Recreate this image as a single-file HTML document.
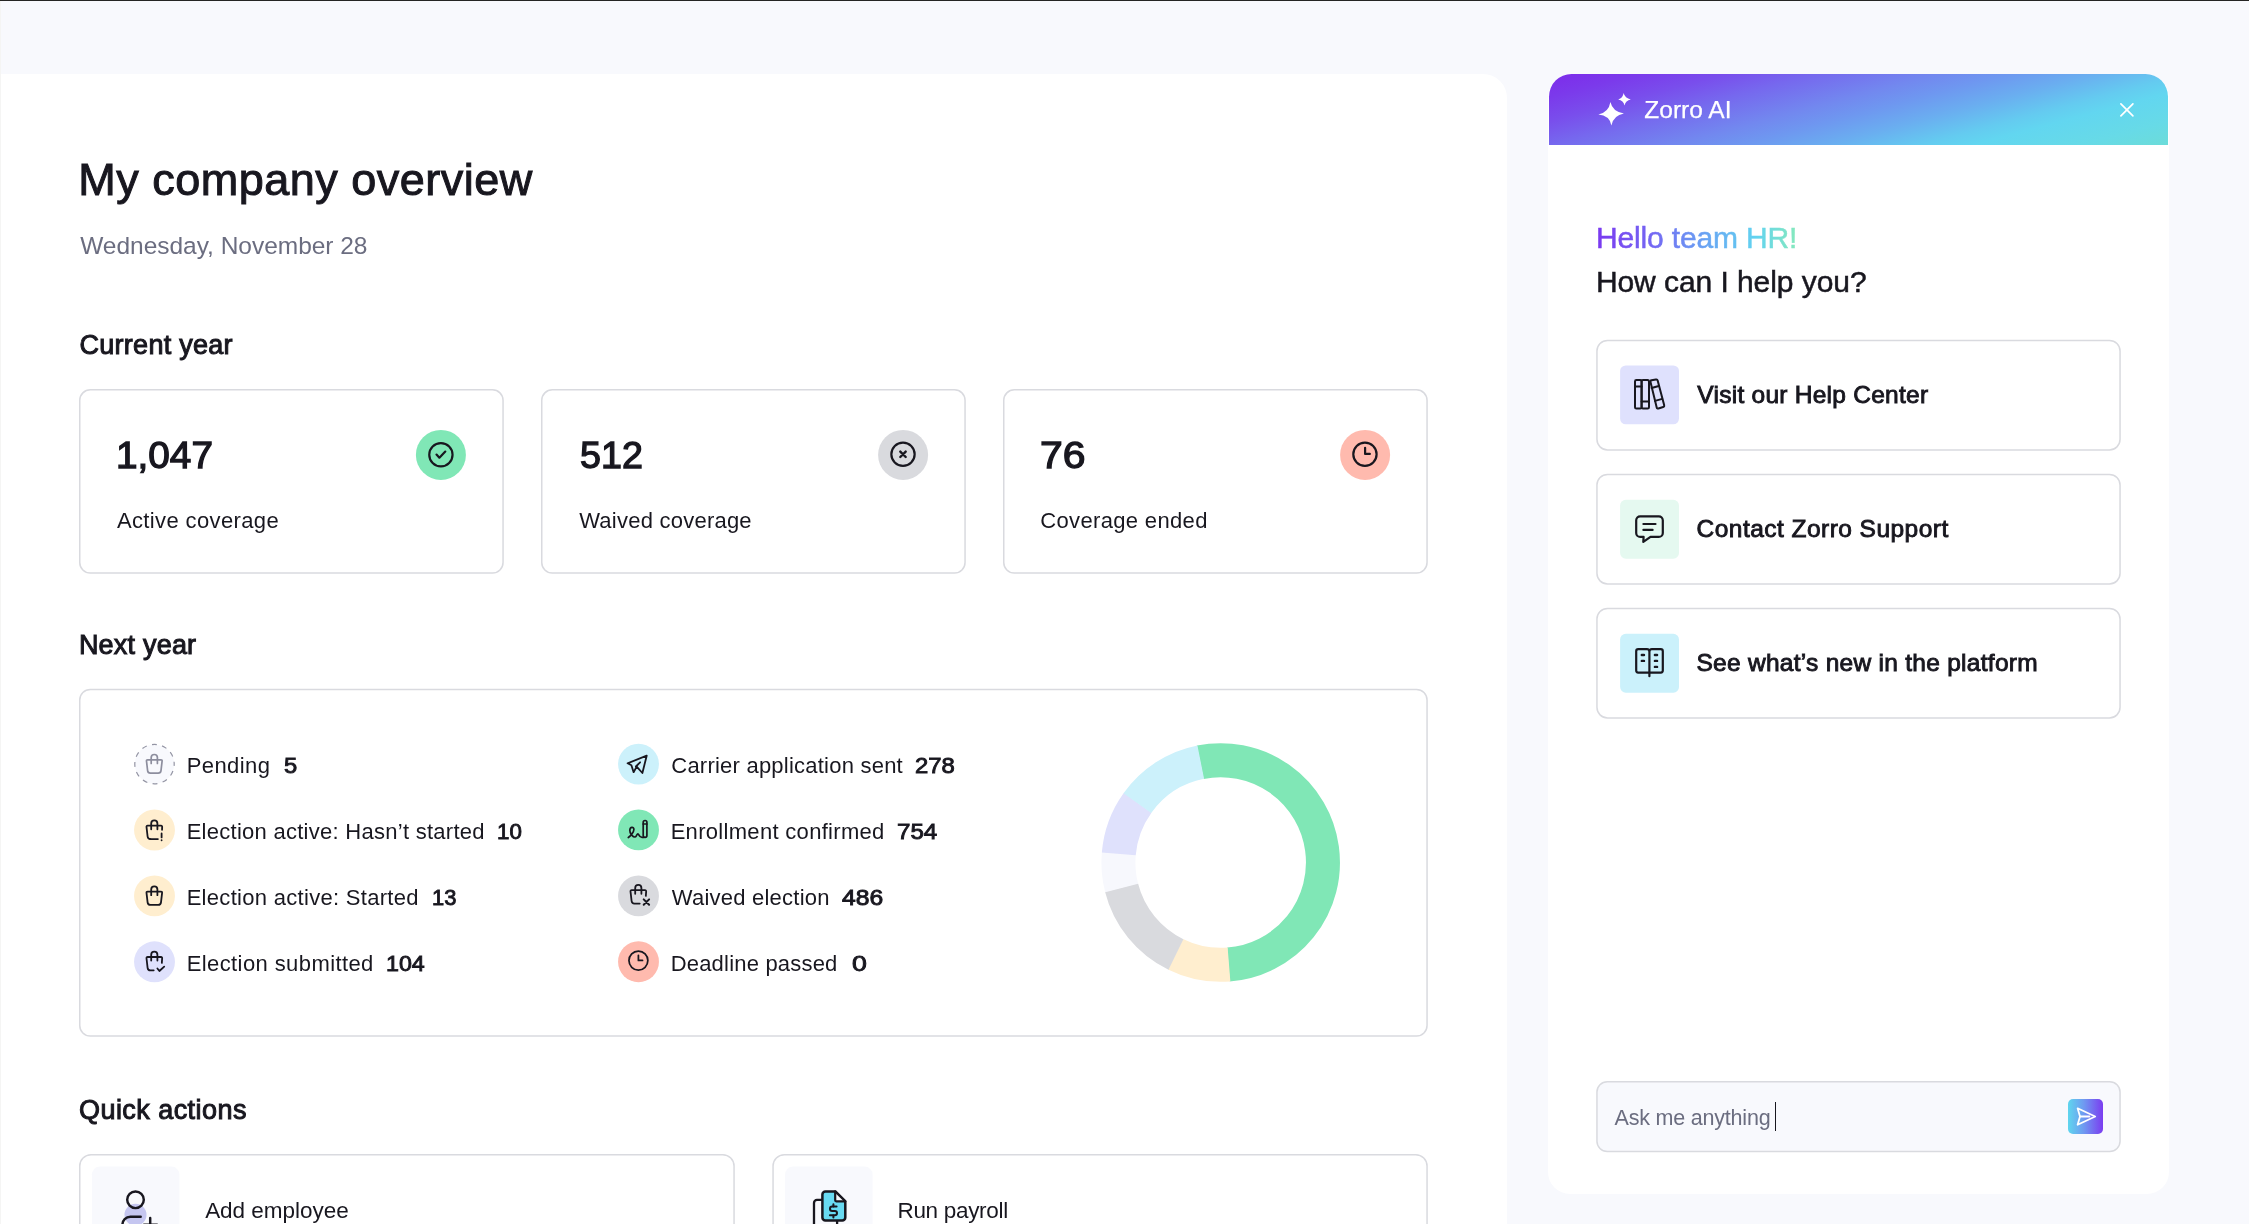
<!DOCTYPE html>
<html lang="en">
<head>
<meta charset="utf-8">
<title>My company overview</title>
<style>
*{box-sizing:border-box;margin:0;padding:0}
html,body{width:2249px;height:1224px;overflow:hidden;background:#f8f9fd}
body{font-family:"Liberation Sans",sans-serif;color:#18171f;position:relative}
.abs{position:absolute}
.t{position:absolute;white-space:nowrap;line-height:1;color:#18171f}
#tx{position:absolute;left:0;top:0;width:2249px;height:1224px;will-change:transform}
#topline{left:0;top:0;width:2249px;height:1px;background:#252524}
#leftcol{left:0;top:1px;width:1px;height:1223px;background:#f5f5f4}
#main{left:1px;top:74px;width:1506px;height:1160px;background:#fff;border-top-right-radius:24px}
#ai{left:1548px;top:73.5px;width:620.8px;height:1120.5px;background:#fff;border-radius:24px 24px 22px 22px}
#aihead{left:1549.4px;top:74.4px;width:618.6px;height:70.3px;border-radius:22.5px 22.5px 0 0;background:linear-gradient(165deg,#7d2bea 0%,#7b3aeb 10%,#794eec 20%,#7668ee 30%,#7288ef 44%,#6e98f0 52%,#6aaef0 61.5%,#64cbf0 72%,#62d6f0 78%,#67dae7 90%,#6cdcd9 100%)}
#send{left:2068px;top:1098.9px;width:35.3px;height:35.2px;border-radius:5px;background:linear-gradient(90deg,#5fd6ee 0%,#6f9af1 45%,#7b3cf0 100%)}
#caret{left:1774.6px;top:1102px;width:1.5px;height:29.2px;background:#18171f}
svg{position:absolute;left:0;top:0;overflow:visible}
.ic{fill:none;stroke:#18171f;stroke-linecap:round;stroke-linejoin:round}
.cd{fill:#fff;stroke:#d9dadf;stroke-width:1.5}
</style>
</head>
<body>
<div id="topline" class="abs"></div>
<div id="leftcol" class="abs"></div>
<div id="main" class="abs"></div>
<div id="ai" class="abs"></div>
<div id="aihead" class="abs"></div>
<svg width="2249" height="1224" viewBox="0 0 2249 1224">
<rect class="cd" x="79.75" y="389.75" width="423.3" height="183.3" rx="10.6"/>
<rect class="cd" x="541.75" y="389.75" width="423.3" height="183.3" rx="10.6"/>
<rect class="cd" x="1003.75" y="389.75" width="423.3" height="183.3" rx="10.6"/>
<rect class="cd" x="79.75" y="689.45" width="1347.3" height="346.6" rx="10.6"/>
<rect class="cd" x="79.75" y="1154.65" width="654.3" height="120" rx="11.3"/>
<rect class="cd" x="773.05" y="1154.65" width="654" height="120" rx="11.3"/>
<rect x="92" y="1166.6" width="87.4" height="80" rx="8" fill="#f8f9fd"/>
<rect x="785.1" y="1166.6" width="87.5" height="80" rx="8" fill="#f8f9fd"/>
<rect class="cd" x="1596.95" y="340.45" width="523.1" height="109.5" rx="10.6"/>
<rect class="cd" x="1596.95" y="474.45" width="523.1" height="109.5" rx="10.6"/>
<rect class="cd" x="1596.95" y="608.45" width="523.1" height="109.5" rx="10.6"/>
<rect class="cd" x="1596.95" y="1081.65" width="523.1" height="69.9" rx="10.3" style="fill:#f8f9fd"/>
</svg>
<div id="send" class="abs"></div>
<div id="caret" class="abs"></div>
<div id="tx">
<div class="t" id="title" style="left:78.29px;top:157px;font-size:45px;letter-spacing:0.493px;-webkit-text-stroke:1.0px #18171f">My company overview</div>
<div class="t" id="date" style="left:80.23px;top:234px;font-size:24.5px;letter-spacing:-0.026px;color:#6b6d80">Wednesday, November 28</div>
<div class="t" id="cy" style="left:79.50px;top:332px;font-size:27px;letter-spacing:0.278px;-webkit-text-stroke:1.0px #18171f">Current year</div>
<div class="t" id="ny" style="left:78.92px;top:632px;font-size:27px;letter-spacing:0.208px;-webkit-text-stroke:1.0px #18171f">Next year</div>
<div class="t" id="qa" style="left:79.04px;top:1097px;font-size:27px;letter-spacing:0.442px;-webkit-text-stroke:1.0px #18171f">Quick actions</div>
<div class="t" id="n1" style="left:115.83px;top:437px;font-size:37.5px;letter-spacing:0.000px;-webkit-text-stroke:1.3px #18171f;transform:scaleX(1.0333);transform-origin:0 0">1,047</div>
<div class="t" id="n2" style="left:579.73px;top:437px;font-size:37.5px;letter-spacing:0.000px;-webkit-text-stroke:1.3px #18171f;transform:scaleX(1.0046);transform-origin:0 0">512</div>
<div class="t" id="n3" style="left:1040.11px;top:437px;font-size:37.5px;letter-spacing:0.000px;-webkit-text-stroke:1.3px #18171f;transform:scaleX(1.0913);transform-origin:0 0">76</div>
<div class="t" id="l1" style="left:116.94px;top:510px;font-size:22px;letter-spacing:0.371px">Active coverage</div>
<div class="t" id="l2" style="left:579.19px;top:510px;font-size:22px;letter-spacing:0.233px">Waived coverage</div>
<div class="t" id="l3" style="left:1040.27px;top:510px;font-size:22px;letter-spacing:0.340px">Coverage ended</div>
<div class="t" id="r1" style="left:186.65px;top:755px;font-size:22px;letter-spacing:0.427px">Pending</div>
<div class="t" id="r2" style="left:186.65px;top:821px;font-size:22px;letter-spacing:0.270px">Election active: Hasn’t started</div>
<div class="t" id="r3" style="left:186.65px;top:887px;font-size:22px;letter-spacing:0.299px">Election active: Started</div>
<div class="t" id="r4" style="left:186.65px;top:953px;font-size:22px;letter-spacing:0.409px">Election submitted</div>
<div class="t" id="r5" style="left:671.27px;top:755px;font-size:22px;letter-spacing:0.227px">Carrier application sent</div>
<div class="t" id="r6" style="left:670.65px;top:821px;font-size:22px;letter-spacing:0.308px">Enrollment confirmed</div>
<div class="t" id="r7" style="left:671.77px;top:887px;font-size:22px;letter-spacing:0.229px">Waived election</div>
<div class="t" id="r8" style="left:670.65px;top:953px;font-size:22px;letter-spacing:0.201px">Deadline passed</div>
<div class="t" id="b1" style="left:284.26px;top:755px;font-size:22.5px;letter-spacing:0.000px;-webkit-text-stroke:0.9px #18171f;transform:scaleX(1.0564);transform-origin:0 0">5</div>
<div class="t" id="b2" style="left:497.10px;top:821px;font-size:22.5px;letter-spacing:0.000px;-webkit-text-stroke:0.9px #18171f;transform:scaleX(0.9923);transform-origin:0 0">10</div>
<div class="t" id="b3" style="left:431.71px;top:887px;font-size:22.5px;letter-spacing:0.000px;-webkit-text-stroke:0.9px #18171f;transform:scaleX(0.9724);transform-origin:0 0">13</div>
<div class="t" id="b4" style="left:385.50px;top:953px;font-size:22.5px;letter-spacing:0.000px;-webkit-text-stroke:0.9px #18171f;transform:scaleX(1.0326);transform-origin:0 0">104</div>
<div class="t" id="b5" style="left:915.26px;top:755px;font-size:22.5px;letter-spacing:0.000px;-webkit-text-stroke:0.9px #18171f;transform:scaleX(1.0607);transform-origin:0 0">278</div>
<div class="t" id="b6" style="left:896.60px;top:821px;font-size:22.5px;letter-spacing:0.000px;-webkit-text-stroke:0.9px #18171f;transform:scaleX(1.0737);transform-origin:0 0">754</div>
<div class="t" id="b7" style="left:842.39px;top:887px;font-size:22.5px;letter-spacing:0.000px;-webkit-text-stroke:0.9px #18171f;transform:scaleX(1.0965);transform-origin:0 0">486</div>
<div class="t" id="b8" style="left:851.85px;top:953px;font-size:22.5px;letter-spacing:0.000px;-webkit-text-stroke:0.9px #18171f;transform:scaleX(1.1868);transform-origin:0 0">0</div>
<div class="t" id="ae" style="left:205.13px;top:1200px;font-size:22.5px;letter-spacing:-0.021px">Add employee</div>
<div class="t" id="rp" style="left:897.49px;top:1200px;font-size:22.5px;letter-spacing:-0.314px">Run payroll</div>
<div class="t" id="zai" style="left:1644.35px;top:98px;font-size:24.5px;letter-spacing:0.000px;color:#fff;-webkit-text-stroke:0.25px #fff">Zorro AI</div>
<svg width="2249" height="1224" viewBox="0 0 2249 1224"><defs><linearGradient id="hg" gradientUnits="userSpaceOnUse" x1="1598" y1="0" x2="1795" y2="0"><stop offset="0" stop-color="#7a3af0"/><stop offset="0.28" stop-color="#7468f3"/><stop offset="0.55" stop-color="#68a4f3"/><stop offset="0.8" stop-color="#62d3f0"/><stop offset="1" stop-color="#84e8bf"/></linearGradient></defs><text id="hello" x="1596.09" y="247.50" font-family="Liberation Sans" font-size="30" letter-spacing="-0.164" fill="url(#hg)" stroke="url(#hg)" stroke-width="0.5">Hello team HR!</text></svg>
<div class="t" id="how" style="left:1595.90px;top:267px;font-size:30px;letter-spacing:-0.064px;-webkit-text-stroke:0.5px #18171f">How can I help you?</div>
<div class="t" id="o1" style="left:1697.37px;top:383px;font-size:24.5px;letter-spacing:0.255px;-webkit-text-stroke:0.9px #18171f">Visit our Help Center</div>
<div class="t" id="o2" style="left:1696.58px;top:517px;font-size:24.5px;letter-spacing:0.461px;-webkit-text-stroke:0.9px #18171f">Contact Zorro Support</div>
<div class="t" id="o3" style="left:1696.48px;top:651px;font-size:24.5px;letter-spacing:0.275px;-webkit-text-stroke:0.9px #18171f">See what’s new in the platform</div>
<div class="t" id="ask" style="left:1614.60px;top:1108px;font-size:21.5px;letter-spacing:-0.210px;color:#6b6d80">Ask me anything</div>
</div>
<svg width="2249" height="1224" viewBox="0 0 2249 1224">
<defs>
<g id="bagbody"><path d="M-6.7,-4.3H6.7Q7.95,-4.3 7.8,-3.05L6.7,6.5Q6.4,9.05 3.9,9.05H-3.9Q-6.4,9.05 -6.7,6.5L-7.8,-3.05Q-7.95,-4.3 -6.7,-4.3Z"/></g>
<g id="baghandle"><path d="M-3.1,-0.7V-6.5a3.1,3.1 0 0 1 6.2,0V-0.7"/></g>
<g id="bagopen"><path d="M7.75,-0.2L7.85,-3.05Q7.95,-4.3 6.7,-4.3H-6.7Q-7.95,-4.3 -7.8,-3.05L-6.7,6.5Q-6.4,9.05 -3.9,9.05"/></g>
</defs>

<!-- top stat circles -->
<circle cx="440.9" cy="454.9" r="25" fill="#80e7b6"/>
<circle cx="903.1" cy="454.9" r="25" fill="#d9dade"/>
<circle cx="1365.1" cy="454.9" r="25" fill="#ffbaae"/>
<g class="ic" stroke-width="2.2" transform="translate(440.9,454.8)"><circle r="11.65"/><path d="M-4.4,-0.2L-1.5,2.9L4.4,-3.2"/></g>
<g class="ic" stroke-width="2.2" transform="translate(903,454.3)"><circle r="11.65"/><path d="M-2.7,-2.7L2.7,2.7M2.7,-2.7L-2.7,2.7" stroke-width="2.4"/></g>
<g class="ic" stroke-width="2.2" transform="translate(1364.95,454.2)"><circle r="11.65"/><path d="M0.15,-6.4V-0.3H4.9"/></g>

<!-- next-year row circles -->
<circle cx="154.5" cy="764.1" r="19.7" fill="#f8f9fd" stroke="#9495a4" stroke-width="1.2" stroke-dasharray="5 5.315" stroke-dashoffset="3.2"/>
<circle cx="154.5" cy="830" r="20.45" fill="#ffeecf"/>
<circle cx="154.5" cy="895.9" r="20.45" fill="#ffeecf"/>
<circle cx="154.5" cy="961.8" r="20.45" fill="#dfe1fc"/>
<circle cx="638.5" cy="764.1" r="20.45" fill="#ccf1fb"/>
<circle cx="638.5" cy="829.9" r="20.45" fill="#80e7b6"/>
<circle cx="638.5" cy="895.9" r="20.45" fill="#d9dade"/>
<circle cx="638.5" cy="961.7" r="20.45" fill="#ffbaae"/>

<!-- pending bag -->
<g class="ic" stroke="#8d8e9e" stroke-width="1.7" transform="translate(154.3,764.1)" style="stroke:#8d8e9e"><use href="#bagbody"/><use href="#baghandle"/></g>
<!-- hasn't started: open bag + ! -->
<g class="ic" stroke-width="1.8" transform="translate(154.3,830)"><use href="#bagopen"/><path d="M-3.9,9.05H3.6"/><use href="#baghandle"/><path d="M7.3,3.4V7.4M7.3,10.2V10.25"/></g>
<!-- started -->
<g class="ic" stroke-width="1.8" transform="translate(154.3,895.9)"><use href="#bagbody"/><use href="#baghandle"/></g>
<!-- submitted: open bag + check -->
<g class="ic" stroke-width="1.8" transform="translate(154.3,961.3)"><path d="M7.55,1.6L7.85,-3.05Q7.95,-4.3 6.7,-4.3H-6.7Q-7.95,-4.3 -7.8,-3.05L-6.7,6.5Q-6.4,9.05 -3.9,9.05H-0.6"/><use href="#baghandle"/><path d="M3.1,7.2L5.1,9.7L9.9,5.3"/></g>
<!-- carrier: paper plane -->
<g class="ic" stroke-width="1.8" stroke-linejoin="miter" transform="translate(638.5,764.1)"><path d="M8.2,-8.4L-10.9,-0.8L-7.1,1.2L-4.9,8.1L-1.8,2.5L3.9,8.9Z"/><path d="M-2.6,2.4L1.6,-1.8"/></g>
<!-- enrollment: signature -->
<g class="ic" stroke-width="1.7" transform="translate(638.5,829.9)"><rect x="4.7" y="-9.4" width="3.7" height="16.9" rx="1.85"/><path d="M4.7,-5.9H8.4"/><path d="M-10.2,7.6C-7.6,6 -4.7,2 -4.6,-0.4C-4.5,-3.3 -8.5,-3.3 -8.7,0.4C-8.9,4 -5.2,7.3 -3.4,7.1C-1.9,6.9 -1.7,3.9 -0.6,3.9C0.5,3.9 0.3,7.5 3.5,7.5H5"/></g>
<!-- waived: open bag + x -->
<g class="ic" stroke-width="1.8" transform="translate(638.3,894.5)"><path d="M7.55,1.4L7.85,-3.05Q7.95,-4.3 6.7,-4.3H-6.7Q-7.95,-4.3 -7.8,-3.05L-6.7,6.5Q-6.4,9.05 -3.9,9.05H1.4"/><use href="#baghandle"/><path d="M5.4,4.9L10.8,10.3M10.8,4.9L5.4,10.3" stroke-width="2"/></g>
<!-- deadline: clock -->
<g class="ic" stroke-width="1.75" transform="translate(638.4,960.6)"><circle r="9.45"/><path d="M0,-5.3V-0.1H4.1"/></g>

<!-- donut -->
<g fill="none" stroke-width="34">
<path d="M1200.22,762.27 A102.3,102.3 0 1 1 1228.46,964.51" stroke="#80e7b6"/>
<path d="M1228.99,964.46 A102.3,102.3 0 0 1 1175.45,954.25" stroke="#ffeecf"/>
<path d="M1175.93,954.49 A102.3,102.3 0 0 1 1121.50,887.51" stroke="#d9dade"/>
<path d="M1121.64,888.03 A102.3,102.3 0 0 1 1118.81,853.32" stroke="#f7f8fd"/>
<path d="M1118.77,853.85 A102.3,102.3 0 0 1 1137.68,802.73" stroke="#dfe1fc"/>
<path d="M1137.36,803.17 A102.3,102.3 0 0 1 1200.74,762.17" stroke="#ccf1fb"/>
</g>

<!-- quick actions: add employee -->
<circle cx="135.5" cy="1214.7" r="11" fill="#c5c6f0"/>
<g class="ic" stroke-width="2.45"><circle cx="135.5" cy="1199.8" r="8.3"/><path d="M140.7,1216.7H130.4A8.1,8.1 0 0 0 122.3,1224.8"/><path d="M150.2,1218V1230M144,1224.75H157"/></g>
<!-- quick actions: run payroll -->
<g class="ic" stroke-width="2.3"><path d="M822.4,1199.9H817A3,3 0 0 0 814,1202.9V1230"/><path d="M837.1,1221.6V1230"/></g>
<path d="M825.4,1191.4H835.2L845.3,1201.3V1217.6A3,3 0 0 1 842.3,1220.6H825.4A3,3 0 0 1 822.4,1217.6V1194.4A3,3 0 0 1 825.4,1191.4Z" fill="#68daf2" stroke="#18171f" stroke-width="2.5" stroke-linejoin="round"/>
<path d="M835.2,1191.4V1200.3A1,1 0 0 0 836.2,1201.3H845.3Z" fill="#f8f9fd"/>
<path d="M835.2,1191.4V1200.3A1,1 0 0 0 836.2,1201.3H845.3" fill="none" stroke="#18171f" stroke-width="2.2" stroke-linejoin="round"/>
<path d="M835.2,1191.4L845.3,1201.3" fill="none" stroke="#18171f" stroke-width="2.3" stroke-linecap="round"/>
<g class="ic" stroke-width="2"><path d="M836.6,1206.5H832.2A2.2,2.2 0 0 0 832.2,1210.9H834.8A2.2,2.2 0 0 1 834.8,1215.3H829.9"/><path d="M833.4,1204.2V1206.4M833.4,1215.4V1217.5"/></g>

<!-- AI header icons -->
<g fill="#fff">
<path d="M1610.4,102.1Q1612.6,111.9 1623.9,113.5Q1613.6,115.2 1611.4,125.4Q1609.6,115.6 1598.4,114.6Q1608.8,112.4 1610.4,102.1Z"/>
<path d="M1623.6,93.1Q1624.9,98.4 1630.8,99.4Q1625.6,100.3 1624.5,105.6Q1623.5,100.4 1618.2,99.4Q1622.9,98.3 1623.6,93.1Z"/>
</g>
<path d="M2120.9,103.8L2132.9,115.8M2132.9,103.8L2120.9,115.8" stroke="#fff" stroke-width="1.7" stroke-linecap="round" fill="none"/>

<!-- AI option icon boxes -->
<rect x="1620.1" y="365.4" width="58.9" height="58.9" rx="5.7" fill="#dfe1fd"/>
<rect x="1620.1" y="499.8" width="58.9" height="58.9" rx="5.7" fill="#e5f9f0"/>
<rect x="1620.1" y="633.8" width="58.9" height="58.9" rx="5.7" fill="#cbf1fb"/>
<!-- books -->
<g class="ic" stroke-width="2" transform="translate(1649.6,394.9)">
<rect x="-14.6" y="-14.9" width="6.6" height="28.6" rx="1.4"/><rect x="-8" y="-14.9" width="7.4" height="28.6" rx="1.4"/>
<path d="M-14.6,-8.3H-8M-8,6.6H-0.6"/>
<path d="M1.95,-14.55L6.35,-15.45Q7.7,-15.75 8.05,-14.4L14.6,10.35Q14.95,11.7 13.6,12.1L8.8,13.6Q7.45,14 7.1,12.65L0.9,-12.9Q0.6,-14.25 1.95,-14.55Z"/>
<path d="M2,-6.9L9.2,-8.9M5.4,6L12.6,4"/>
</g>
<!-- chat -->
<g class="ic" stroke-width="2.2" transform="translate(1649.6,529.3)">
<path d="M-9.4,-13H9.2A4,4 0 0 1 13.2,-9V3.6A4,4 0 0 1 9.2,7.6H0.9L-6.3,12.6L-6,7.6H-9.4A4,4 0 0 1 -13.4,3.6V-9A4,4 0 0 1 -9.4,-13Z"/>
<path d="M-6.2,-5.3H5.9M-6.2,0.6H3"/>
</g>
<!-- open book -->
<g class="ic" stroke-width="2.2" transform="translate(1649.6,663.3)">
<path d="M-0.2,-11.6Q-0.2,-14.1 -2.7,-14.1H-11.4Q-13.4,-14.1 -13.4,-12.1V7.3Q-13.4,9.3 -11.4,9.3H11.2Q13.2,9.3 13.2,7.3V-12.1Q13.2,-14.1 11.2,-14.1H2.3Q-0.2,-14.1 -0.2,-11.6V12.9"/>
<path d="M-7.8,-8.3H-5.6M-7.8,-2.4H-5.6M5.3,-8.3H7.5M5.3,-2.4H7.5M5.3,3.6H7.5" stroke-width="2.4"/>
</g>
<!-- send -->
<g fill="none" stroke="#fff" stroke-width="1.8" stroke-linejoin="round" stroke-linecap="round" transform="translate(2085.6,1116.5)">
<path d="M-8,-8.2L9.6,0L-8,8.2L-5.6,0Z"/><path d="M-5.6,0H3.8"/>
</g>
</svg>
</body>
</html>
